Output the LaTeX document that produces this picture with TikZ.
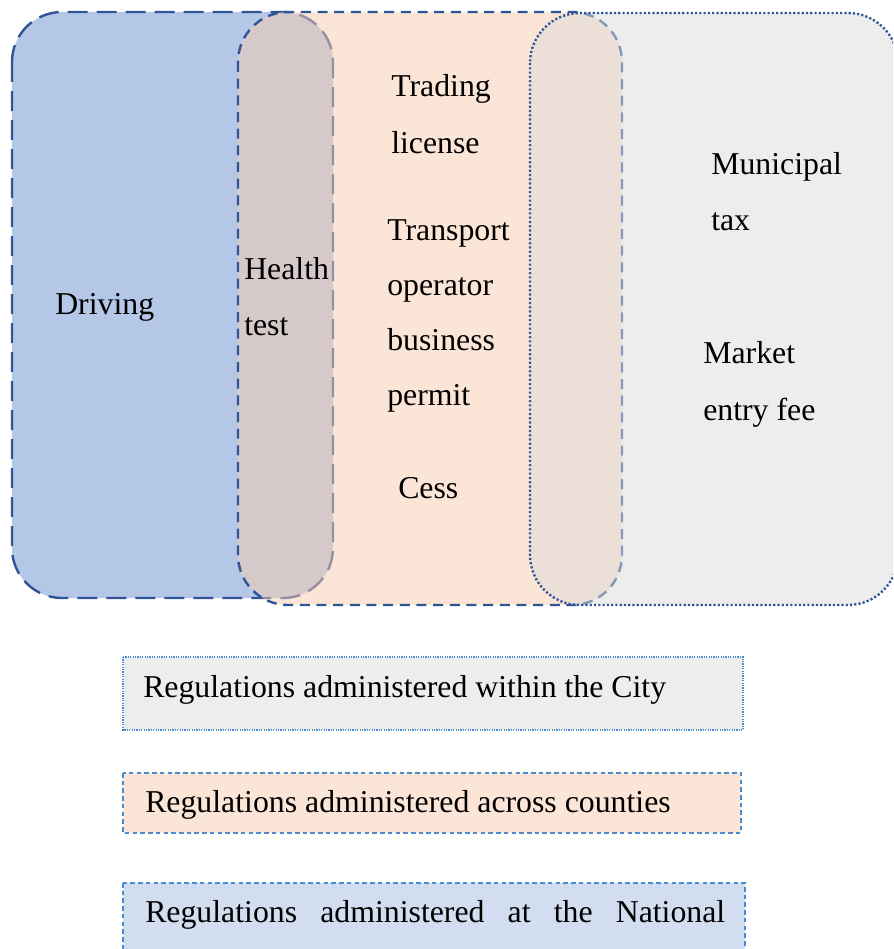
\documentclass[tikz,border=0pt]{standalone}
\usepackage{fontspec}
\setmainfont{Liberation Serif}
\definecolor{edgeblue}{HTML}{2F5597}
\definecolor{natfill}{HTML}{B4C7E7}
\definecolor{cntyfill}{HTML}{F8CBAD}
\definecolor{cityfill}{HTML}{DBDBDB}
\definecolor{keyedge}{HTML}{4A8CD0}
\definecolor{keycity}{HTML}{EDEDED}
\definecolor{keycnty}{HTML}{FBE5D6}
\definecolor{keynat}{HTML}{D2DDF0}
\tikzset{
  region/.style={line width=1.8pt, draw=edgeblue, rounded corners=37.5pt},
  natregion/.style={region, fill=natfill, dash pattern=on 15pt off 6.75pt},
  cntyregion/.style={region, fill=cntyfill, fill opacity=0.5, draw opacity=1, dash pattern=on 7.5pt off 5pt},
  cityregion/.style={region, fill=cityfill, fill opacity=0.5, draw opacity=1, dash pattern=on 1.6pt off 1.6pt},
  keybox/.style={draw=keyedge, line width=0.9pt},
  lbl/.style={inner sep=0pt, anchor=base west, font=\fontsize{23.85}{28}\selectfont, text=black}
}
\begin{document}
\begin{tikzpicture}[x=0.75pt, y=-0.75pt]
\useasboundingbox (0,0) rectangle (893,949);
\clip (0,0) rectangle (893,949);

% three overlapping jurisdictions
\path[natregion]  (12,12)  rectangle (333,598);
\path[cntyregion] (238,12) rectangle (622,605);
\path[cityregion] (530,13) rectangle (898,605);

% national
\node[lbl] (driving) at (55,314) {Driving};
% national and counties
\node[lbl] (health) at (244,279) {Health};
\node[lbl] (test)   at (244,335) {test};
% counties
\node[lbl] (trading) at (391,97)  {Trading};
\node[lbl] (license) at (391,153) {license};
\node[lbl] (transport) at (387,240) {Transport};
\node[lbl] (operator)  at (387,295) {operator};
\node[lbl] (business)  at (387,350) {business};
\node[lbl] (permit)    at (387,405) {permit};
\node[lbl] (cess) at (398,498) {Cess};
% city
\node[lbl] (municipal) at (711,174) {Municipal};
\node[lbl] (tax)       at (711,230) {tax};
\node[lbl] (market) at (703,363) {Market};
\node[lbl] (entry)  at (703,420) {entry fee};

% key
\path[keybox, fill=keycity, dash pattern=on 0.9pt off 0.9pt] (123,657) rectangle (743,730);
\node[lbl] (keyone) at (143,697) {Regulations administered within the City};
\path[keybox, fill=keycnty, dash pattern=on 3.4pt off 2.4pt] (123,773) rectangle (741,833);
\node[lbl] (keytwo) at (145,812) {Regulations administered across counties};
\path[keybox, fill=keynat, dash pattern=on 3.4pt off 2.4pt] (123,883) rectangle (745,990);
\node[lbl] (keythree) at (145,922) {\makebox[435pt][s]{Regulations\hfill administered\hfill at\hfill the\hfill National}};
\end{tikzpicture}
\end{document}
